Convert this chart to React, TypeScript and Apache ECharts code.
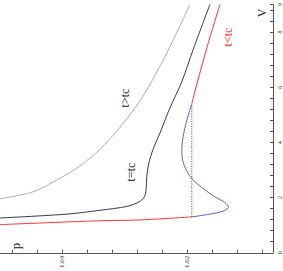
import React, { useEffect, useRef } from "react";
import * as echarts from "echarts";

// Isotherms: each point is [p, V]
const hotIsotherm: [number, number][] = [
  [1.05, 1.96], [1.0447, 2.21], [1.0404, 2.70], [1.0372, 3.15], [1.034, 3.75],
  [1.0308, 4.55], [1.0276, 5.50], [1.0249, 6.55], [1.0223, 7.70], [1.0196, 9.0],
];
const criticalIsotherm: [number, number][] = [
  [1.05, 1.26], [1.0393, 1.40], [1.034, 1.54], [1.0297, 1.68], [1.0276, 1.86],
  [1.0268, 2.07], [1.0266, 2.35], [1.0265, 2.77], [1.0262, 3.22], [1.0255, 3.75],
  [1.0244, 4.34], [1.0228, 5.25], [1.0209, 6.20], [1.019, 7.42], [1.0164, 9.0],
];
const coldLiquid: [number, number][] = [
  [1.05, 1.02], [1.034, 1.16], [1.0276, 1.19], [1.0193, 1.30],
];
const coldLoop: [number, number][] = [
  [1.0193, 1.30], [1.0164, 1.40], [1.0143, 1.51], [1.0134, 1.65], [1.014, 1.82],
  [1.0159, 2.07], [1.018, 2.42], [1.0196, 2.77], [1.0207, 3.29], [1.0209, 3.75],
  [1.0207, 4.20], [1.0201, 4.80], [1.0193, 5.39],
];
const coldGas: [number, number][] = [
  [1.0193, 5.39], [1.0188, 5.85], [1.0169, 7.42], [1.0148, 9.0],
];
const maxwellLine: [number, number][] = [
  [1.0193, 1.30], [1.0193, 5.39],
];
const pTicks = [1.008, 1.012, 1.016, 1.02, 1.024, 1.028, 1.032, 1.036, 1.04, 1.044, 1.048];
const pLabels = [1.02, 1.04];

export default function App() {
  const ref = useRef<HTMLDivElement>(null);
  useEffect(() => {
    if (!ref.current) return;
    const chart = echarts.init(ref.current, undefined, { renderer: "svg" });
    const axisColor = "#555";
    const font = "'Liberation Serif', 'DejaVu Serif', serif";
    chart.setOption({
      animation: false,
      backgroundColor: "#fff",
      grid: { left: 0, right: 10, top: 0, bottom: 14, containLabel: false },
      xAxis: {
        type: "value",
        min: 1.0063,
        max: 1.05,
        inverse: true,
        position: "bottom",
        axisLine: { show: true, lineStyle: { color: axisColor, width: 1 } },
        axisTick: { show: true, inside: true, length: 3, customValues: pTicks, lineStyle: { color: axisColor } },
        axisLabel: {
          show: true, customValues: pLabels, rotate: 90, fontSize: 7, fontFamily: font,
          color: "#333", margin: 3, formatter: (v: number) => v.toFixed(2),
        },
        splitLine: { show: false },
      },
      yAxis: {
        type: "value",
        min: 0,
        max: 9,
        interval: 2,
        position: "right",
        axisLine: { show: true, lineStyle: { color: axisColor, width: 1 } },
        axisTick: { show: true, inside: true, length: 3, lineStyle: { color: axisColor } },
        minorTick: { show: true, splitNumber: 5, length: 3, lineStyle: { color: axisColor } },
        axisLabel: { show: true, rotate: 90, fontSize: 6, fontFamily: font, color: "#333", margin: 4 },
        splitLine: { show: false },
      },
      series: [
        { type: "line", data: hotIsotherm, smooth: 0.3, symbol: "none", lineStyle: { color: "#999", width: 0.8 } },
        { type: "line", data: criticalIsotherm, smooth: 0.3, symbol: "none", lineStyle: { color: "#3a3a3a", width: 1 } },
        { type: "line", data: coldLiquid, smooth: 0.3, symbol: "none", lineStyle: { color: "#ff3030", width: 1 } },
        { type: "line", data: coldLoop, smooth: 0.3, symbol: "none", lineStyle: { color: "#5050c0", width: 0.9 } },
        { type: "line", data: coldGas, smooth: 0.3, symbol: "none", lineStyle: { color: "#ff3030", width: 1 } },
        { type: "line", data: maxwellLine, symbol: "none", lineStyle: { color: "#444", width: 1, type: [1, 1.5] } },
      ],
      graphic: [
        { type: "text", x: 125, y: 98, rotation: Math.PI / 2, style: { text: "t>tc", font: `12px ${font}`, fill: "#222", align: "center", verticalAlign: "middle" } },
        { type: "text", x: 131, y: 172, rotation: Math.PI / 2, style: { text: "t=tc", font: `12px ${font}`, fill: "#222", align: "center", verticalAlign: "middle" } },
        { type: "text", x: 228, y: 37, rotation: Math.PI / 2, style: { text: "t<tc", font: `12px ${font}`, fill: "#ff2020", align: "center", verticalAlign: "middle" } },
        { type: "text", x: 262, y: 13, rotation: Math.PI / 2, style: { text: "V", font: `12px ${font}`, fill: "#222", align: "center", verticalAlign: "middle" } },
        { type: "text", x: 15, y: 246, rotation: Math.PI / 2, style: { text: "p", font: `13px ${font}`, fill: "#222", align: "center", verticalAlign: "middle" } },
      ],
    });
    return () => chart.dispose();
  }, []);
  return <div ref={ref} style={{ position: "fixed", left: 0, top: 0, width: 283, height: 271 }} />;
}
